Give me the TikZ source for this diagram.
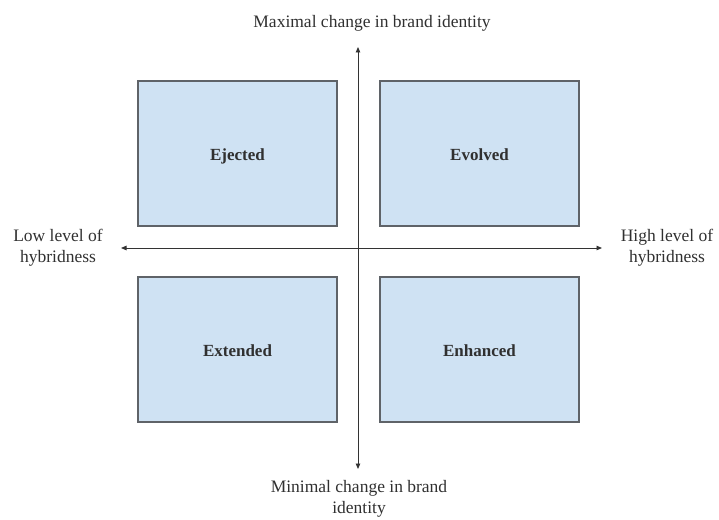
\documentclass[tikz,border=0pt]{standalone}
\usepackage{fontspec}
\setmainfont{Liberation Serif}
\usetikzlibrary{arrows.meta}
\definecolor{boxfill}{HTML}{CFE2F3}
\definecolor{boxline}{HTML}{5F6368}
\definecolor{inktext}{HTML}{303030}
\tikzset{
  quadrant/.style={draw=boxline, line width=1.2pt, fill=boxfill,
    minimum width=199pt, minimum height=145pt, inner sep=0pt,
    text height=14pt, text depth=1pt,
    font=\fontsize{17}{20}\selectfont\bfseries, text=inktext},
  axislabel/.style={align=center, inner sep=0pt, text=inktext,
    font=\fontsize{17.5}{21}\selectfont},
  axisline/.style={draw=black!80, line width=0.9pt,
    {Triangle[length=5.5pt,width=4.5pt]}-{Triangle[length=5.5pt,width=4.5pt]}}
}
\begin{document}
\begin{tikzpicture}[x=1pt,y=-1pt]
  \useasboundingbox (0,0) rectangle (719,519);

  % four quadrants
  \node[quadrant] (ejected)  at (237.5,153.5) {Ejected};
  \node[quadrant] (evolved)  at (479.5,153.5) {Evolved};
  \node[quadrant] (extended) at (237.5,349.5) {Extended};
  \node[quadrant] (enhanced) at (479.5,349.5) {Enhanced};

  % axis end points
  \coordinate (vtop) at (358,47);
  \coordinate (vbot) at (358,469);
  \coordinate (hleft) at (121,248);
  \coordinate (hright) at (602,248);

  % axes
  \draw[axisline] (vtop) -- (vbot);
  \draw[axisline] (hleft) -- (hright);

  % axis labels
  \node[axislabel] (maxlab) at (372,23) {Maximal change in brand identity};
  \node[axislabel, anchor=north] (minlab) at (359,480) {Minimal change in brand\\identity};
  \node[axislabel] (lowlab) at (58,248) {Low level of\\hybridness};
  \node[axislabel] (highlab) at (667,248) {High level of\\hybridness};
\end{tikzpicture}
\end{document}
